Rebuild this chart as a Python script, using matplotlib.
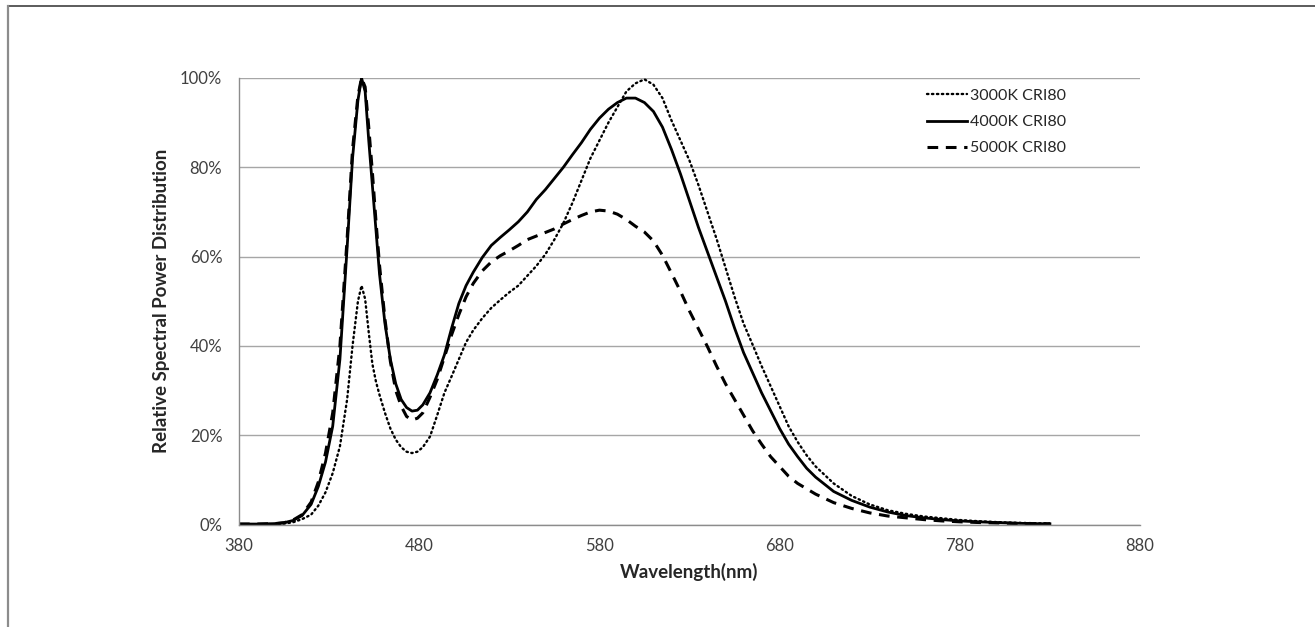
import matplotlib
matplotlib.use("Agg")
import matplotlib.pyplot as plt
from matplotlib.lines import Line2D
from matplotlib.ticker import FuncFormatter

wavelength = [380, 390, 400, 405, 410, 415, 420, 424, 428, 432, 436, 440, 443, 446, 448,
              450, 452, 454, 456, 458, 461, 464, 467, 470, 473, 476, 479, 482, 486, 490,
              494, 498, 502, 506, 510, 515, 520, 525, 530, 535, 540, 545, 550, 555, 560,
              565, 570, 575, 580, 585, 590, 595, 600, 605, 610, 615, 620, 625, 630, 635,
              640, 645, 650, 655, 660, 665, 670, 675, 680, 685, 690, 695, 700, 710, 720,
              730, 740, 750, 760, 770, 780, 790, 800, 810, 820, 830]

spd_3000k = [0.05, 0.05, 0.1, 0.2, 0.5, 1.2, 2.2, 4.2, 7.2, 11.5, 17.5, 28, 40, 50, 53.5,
             50.5, 43, 36, 32, 29, 25, 21.5, 19, 17.3, 16.3, 16, 16.3, 17.3, 19.7, 24.5,
             29.5, 33.2, 37, 40.8, 43.5, 46.2, 48.5, 50.3, 52, 53.5, 55.7, 57.9, 60.5, 63.8, 67.5,
             72, 77, 82, 86, 90, 93.5, 97, 98.8, 99.7, 98.5, 95.5, 90.5, 86, 81.5, 76,
             70, 64, 57.5, 51, 45, 40.3, 35.5, 31, 26.5, 22, 18.5, 15.5, 13, 9.2, 6.4,
             4.5, 3.2, 2.4, 1.8, 1.4, 1.0, 0.75, 0.55, 0.4, 0.3, 0.2]

spd_4000k = [0.1, 0.1, 0.2, 0.4, 0.9, 2.0, 4.5, 8.5, 14, 22, 37, 62, 82, 95, 100,
             97, 86, 76, 66, 56, 45, 37, 31.5, 28, 26.2, 25.4, 25.6, 26.8, 29.5, 33.5,
             38, 44, 49.5, 53.5, 56.5, 59.8, 62.5, 64.3, 66, 67.8, 70, 72.8, 75, 77.5, 80,
             82.8, 85.5, 88.5, 91, 93, 94.5, 95.5, 95.5, 94.5, 92.5, 89, 84, 78.5, 72.5, 66.5,
             61, 55.5, 50, 44, 38.5, 34, 29.5, 25.5, 21.5, 18, 15.2, 12.6, 10.6, 7.4, 5.4,
             3.9, 2.8, 2.0, 1.5, 1.1, 0.8, 0.6, 0.45, 0.3, 0.2, 0.15]

spd_5000k = [0.1, 0.1, 0.2, 0.4, 1.0, 2.2, 5, 9.5, 16, 25, 40, 64, 84, 96, 100,
             98, 89, 79, 68, 58, 46, 36.5, 30, 26.5, 24.2, 23.4, 23.8, 25, 28.5, 32.5,
             37.5, 42.5, 47, 51, 54, 56.8, 58.8, 60.2, 61.3, 62.5, 63.8, 64.6, 65.4, 66.2, 67.3,
             68.3, 69.2, 70, 70.4, 70.2, 69.5, 68.3, 66.8, 65.5, 63.5, 60.3, 56.3, 52.2, 47.8, 43.8,
             39.8, 35.5, 31.5, 28, 24.5, 21, 18, 15.2, 13, 10.8, 9.2, 8, 6.8, 4.9, 3.6,
             2.6, 1.9, 1.5, 1.1, 0.8, 0.6, 0.45, 0.35, 0.25, 0.2, 0.15]

labels = ["3000K CRI80", "4000K CRI80", "5000K CRI80"]
x_ticks = [380, 480, 580, 680, 780, 880]
y_ticks = [0, 20, 40, 60, 80, 100]

plt.rcParams['font.family'] = ['Lato', 'DejaVu Sans']

fig = plt.figure(figsize=(13.15, 6.27), dpi=100)
ax = fig.add_axes([239/1315, 1 - 524.5/627, (1140-239)/1315, (524.5-78)/627])

ax.plot(wavelength, [v/100 for v in spd_3000k], color='black', lw=1.7,
        linestyle=(0, (0.6, 1.5)), dash_capstyle='round', label=labels[0])
ax.plot(wavelength, [v/100 for v in spd_4000k], color='black', lw=2.0,
        linestyle='-', label=labels[1])
ax.plot(wavelength, [v/100 for v in spd_5000k], color='black', lw=2.2,
        linestyle=(0, (3.5, 2.5)), label=labels[2])

ax.set_xlim(380, 880)
ax.set_ylim(0, 1)
ax.set_xticks(x_ticks)
ax.set_yticks([t/100 for t in y_ticks])
ax.yaxis.set_major_formatter(FuncFormatter(lambda v, p: f"{v*100:.0f}%"))
ax.grid(axis='y', color='#a6a6a6', lw=1.0)
ax.set_axisbelow(True)
for s in ['top', 'right']:
    ax.spines[s].set_visible(False)
for s in ['left', 'bottom']:
    ax.spines[s].set_color('#8c8c8c')
    ax.spines[s].set_linewidth(1.0)
ax.tick_params(axis='both', length=0, labelsize=12, colors='#404040')
ax.tick_params(axis='y', pad=12)
ax.tick_params(axis='x', pad=10)

ax.set_xlabel("Wavelength(nm)", fontsize=13.5, fontweight='bold', color='#262626', labelpad=6)
ax.set_ylabel("Relative Spectral Power Distribution", fontsize=13.5, fontweight='bold',
              color='#262626', labelpad=7)

ax.legend(loc='upper left', bbox_to_anchor=(0.757, 0.99), frameon=False, fontsize=11.5,
          handlelength=2.5, handletextpad=0.15, labelspacing=0.75, borderaxespad=0,
          labelcolor='#262626')

fig.add_artist(Line2D([8/1315, 1.0], [1 - 6/627, 1 - 6/627], transform=fig.transFigure,
                      color='#404040', lw=1.2))
fig.add_artist(Line2D([8/1315, 8/1315], [0, 1 - 6/627], transform=fig.transFigure,
                      color='#8c8c8c', lw=1.6))

fig.savefig("out.png", dpi=100)
